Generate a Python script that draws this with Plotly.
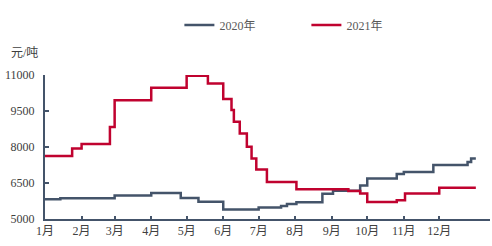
import plotly.graph_objects as go

# ---- data ----
dates_2020 = ["2021-01-01", "2021-01-14", "2021-03-01", "2021-04-01", "2021-04-26", "2021-05-11",
              "2021-06-01", "2021-07-01", "2021-07-20", "2021-07-25", "2021-08-02", "2021-08-24",
              "2021-09-02", "2021-09-25", "2021-10-01", "2021-10-26", "2021-11-01", "2021-11-26",
              "2021-12-25", "2021-12-28", "2022-01-01"]
values_2020 = [5820, 5860, 5980, 6080, 5880, 5720,
               5400, 5480, 5540, 5620, 5700, 6050,
               6180, 6400, 6690, 6870, 6960, 7250,
               7380, 7520, 7520]

dates_2021 = ["2021-01-01", "2021-01-24", "2021-02-01", "2021-02-25", "2021-03-01", "2021-04-01",
              "2021-05-01", "2021-05-19", "2021-06-01", "2021-06-08", "2021-06-10", "2021-06-15",
              "2021-06-21", "2021-06-25", "2021-06-29", "2021-07-08", "2021-08-02", "2021-09-15",
              "2021-09-25", "2021-10-01", "2021-10-26", "2021-11-02", "2021-12-01", "2022-01-01"]
values_2021 = [7620, 7940, 8120, 8830, 9950, 10470,
               10970, 10650, 10000, 9540, 9050, 8565,
               8010, 7520, 7060, 6545, 6240, 6170,
               6060, 5710, 5780, 6060, 6300, 6300]

month_ticks = ["2021-%02d-01" % m for m in range(1, 13)]
month_labels = ["%d月" % m for m in range(1, 13)]
y_ticks = [5000, 6500, 8000, 9500, 11000]
y_labels = [str(v) for v in y_ticks]

BLUE = "#44546A"
RED = "#C0022F"
FONT = "Liberation Serif, Noto Sans CJK SC, serif"

fig = go.Figure()
fig.add_trace(go.Scatter(x=dates_2020, y=values_2020, mode="lines", name="2020年",
                         line=dict(color=BLUE, width=2.5, shape="hv")))
fig.add_trace(go.Scatter(x=dates_2021, y=values_2021, mode="lines", name="2021年",
                         line=dict(color=RED, width=2.5, shape="hv")))

fig.update_layout(
    width=492, height=246,
    margin=dict(l=45, r=2, t=75, b=27),
    paper_bgcolor="white", plot_bgcolor="white",
    font=dict(family=FONT, size=12, color="#404040"),
    showlegend=True,
    legend=dict(orientation="h", x=0.302, xanchor="left", y=1.347, yanchor="middle",
                font=dict(size=12, color="#595959"), entrywidth=82, entrywidthmode="pixels",
                bgcolor="rgba(0,0,0,0)"),
    xaxis=dict(type="date", range=["2021-01-01", "2022-01-13"],
               tickvals=month_ticks, ticktext=month_labels,
               showline=True, linecolor=BLUE, linewidth=2,
               ticks="inside", ticklen=3, tickcolor=BLUE, tickwidth=1.5,
               showgrid=False, zeroline=False, fixedrange=True),
    yaxis=dict(range=[5000, 11000], tickvals=y_ticks, ticktext=y_labels,
               showline=True, linecolor=BLUE, linewidth=2,
               ticks="inside", ticklen=4, tickcolor=BLUE, tickwidth=1.5,
               showgrid=False, zeroline=False, ticklabelstandoff=6),
    annotations=[dict(text="元/吨", xref="paper", yref="paper", x=-0.045, y=1.153,
                      xanchor="center", yanchor="middle", showarrow=False,
                      font=dict(size=12, color="#404040"))],
)

fig.write_html("out.html")
